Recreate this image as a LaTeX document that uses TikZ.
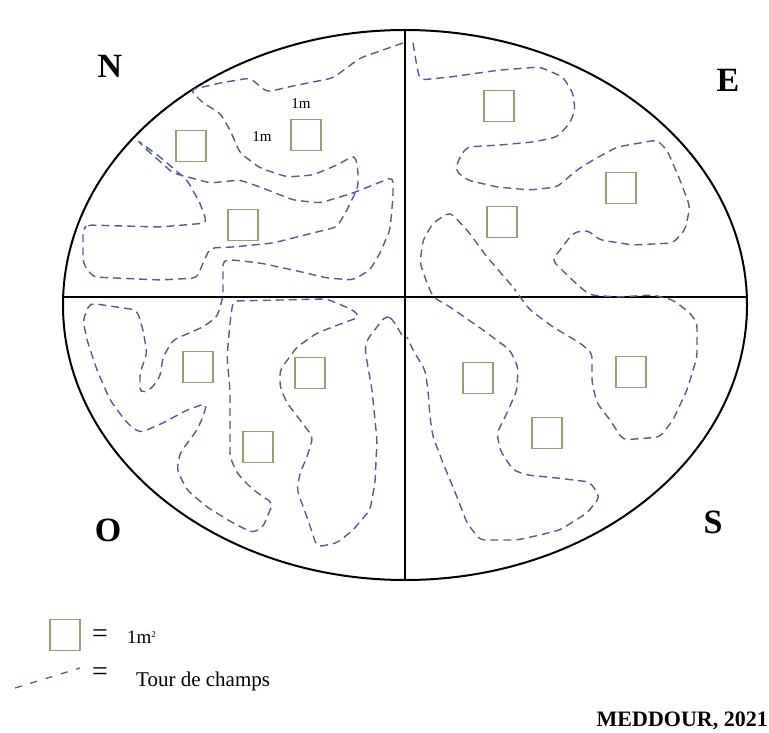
\documentclass[tikz,border=0pt]{standalone}
\usepackage{fontspec}
\setmainfont{Liberation Serif}
\definecolor{tourc}{RGB}{80,95,145}
\definecolor{quadc}{RGB}{140,165,110}
\tikzset{
  tourline/.style={draw=tourc, line width=1.4pt, dash pattern=on 8pt off 5pt, rounded corners=5pt},
  quadrat/.style={draw=quadc, line width=1.7pt, minimum width=30pt, minimum height=31pt, inner sep=0pt},
  dirlabel/.style={font=\fontsize{34}{34}\selectfont\bfseries},
  smalltxt/.style={font=\fontsize{15}{15}\selectfont, inner sep=0pt},
  legtxt/.style={font=\fontsize{19}{19}\selectfont, inner sep=0pt, anchor=west},
  eqtxt/.style={font=\fontsize{28}{28}\selectfont, inner sep=0pt},
}
\begin{document}
\begin{tikzpicture}[x=1pt,y=-1pt]
\useasboundingbox[fill=white] (0,0) rectangle (769,733);
% ellipse and axes
\draw[line width=2pt] (405,305) ellipse [x radius=342, y radius=275];
\draw[line width=1.2pt] (405,30) -- (405,580);
\draw[line width=1.2pt] (63,297) -- (747,297);
% direction labels
\node[dirlabel] (nN) at (110,66) {N};
\node[dirlabel] (nE) at (728,80) {E};
\node[dirlabel] (nO) at (108,530) {O};
\node[dirlabel] (nS) at (713,522) {S};
% tour de champs, west half
\draw[tourline] (403,43) -- (360,58) -- (333,78) -- (293,86) -- (267,92) -- (250,78) -- (220,83) -- (190,90)
  -- (203,103) -- (220,113) -- (230,130) -- (240,153) -- (260,168) -- (287,177) -- (313,175) -- (337,165) -- (355,155)
  -- (358,170) -- (358,187) -- (347,210) -- (337,227) -- (313,233) -- (273,243) -- (233,247) -- (210,248)
  -- (203,263) -- (197,278) -- (160,280) -- (93,277) -- (83,263) -- (83,230) -- (87,225) -- (160,227) -- (207,223)
  -- (200,203) -- (187,180) -- (160,157) -- (137,140) -- (147,150) -- (173,173) -- (210,183) -- (240,180)
  -- (260,187) -- (293,200) -- (320,203) -- (353,193) -- (393,177) -- (393,197) -- (390,230) -- (380,253)
  -- (370,270) -- (353,280) -- (327,278) -- (293,270) -- (260,263) -- (233,260) -- (223,260) -- (223,297)
  -- (217,317) -- (203,327) -- (173,340) -- (163,357) -- (160,377) -- (150,390) -- (140,393) -- (140,373)
  -- (147,353) -- (143,330) -- (137,310) -- (103,305) -- (90,303) -- (83,320) -- (87,340) -- (97,370)
  -- (110,400) -- (127,423) -- (140,433) -- (163,423) -- (187,410) -- (207,403) -- (203,417) -- (197,430)
  -- (180,453) -- (177,470) -- (187,490) -- (207,507) -- (233,523) -- (253,533) -- (263,527) -- (273,503)
  -- (263,497) -- (250,487) -- (237,473) -- (230,457) -- (230,423) -- (230,390) -- (227,357) -- (230,323)
  -- (233,301) -- (327,299) -- (353,310) -- (360,317) -- (343,323) -- (317,333) -- (297,347) -- (280,370)
  -- (280,387) -- (287,403) -- (313,437) -- (307,457) -- (300,473) -- (297,490) -- (307,517) -- (317,547)
  -- (337,543) -- (353,530) -- (370,510) -- (375,483) -- (377,440) -- (372,390) -- (365,350) -- (367,340)
  -- (380,323) -- (387,315) -- (393,320) -- (403,337);
% tour de champs, east half
\draw[tourline] (413,43) -- (417,67) -- (420,80) -- (450,77) -- (500,70) -- (540,67) -- (563,77) -- (573,93)
  -- (575,110) -- (570,123) -- (557,137) -- (533,142) -- (500,145) -- (467,147) -- (460,157) -- (455,170)
  -- (467,180) -- (497,187) -- (530,190) -- (557,187) -- (577,170) -- (593,160) -- (617,147) -- (657,140)
  -- (667,150) -- (680,180) -- (690,207) -- (685,230) -- (673,243) -- (633,245) -- (600,240) -- (587,230)
  -- (573,233) -- (560,250) -- (552,260) -- (567,275) -- (580,287) -- (590,295) -- (617,297) -- (653,295)
  -- (673,300) -- (690,313) -- (697,323) -- (697,357) -- (687,390) -- (673,420) -- (660,437) -- (623,440)
  -- (610,420) -- (597,403) -- (592,383) -- (592,353) -- (580,343) -- (553,327) -- (530,310) -- (517,293)
  -- (513,287) -- (487,257) -- (467,230) -- (450,212) -- (433,223) -- (423,240) -- (420,263) -- (427,283)
  -- (433,297) -- (450,307) -- (483,330) -- (510,350) -- (518,367) -- (517,390) -- (507,413) -- (497,433)
  -- (500,450) -- (513,470) -- (527,475) -- (557,478) -- (590,482) -- (600,497) -- (587,513) -- (560,530)
  -- (540,535) -- (517,540) -- (480,540) -- (467,523) -- (457,497) -- (443,463) -- (433,437) -- (430,417)
  -- (428,390) -- (425,370) -- (413,350) -- (407,337);
% quadrats
\node[quadrat] (q1) at (191,146) {};
\node[quadrat] (q2) at (306,135) {};
\node[quadrat] (q3) at (243,225) {};
\node[quadrat] (q4) at (499,106) {};
\node[quadrat] (q5) at (621,188) {};
\node[quadrat] (q6) at (502,222) {};
\node[quadrat] (q7) at (198,367) {};
\node[quadrat] (q8) at (310,373) {};
\node[quadrat] (q9) at (258,447) {};
\node[quadrat] (q10) at (478,378) {};
\node[quadrat] (q11) at (547,433) {};
\node[quadrat] (q12) at (631,372) {};
% dimension labels
\node[smalltxt] (m1) at (301,104) {1m};
\node[smalltxt] (m2) at (262,137) {1m};
% legend
\node[quadrat] (lq) at (65,635) {};
\node[eqtxt] (le1) at (100,636) {=};
\node[legtxt] (lt1) at (127,637) {1m\textsuperscript{\fontsize{9}{9}\selectfont 2}};
\coordinate (ld1) at (15,688);
\coordinate (ld2) at (80,668);
\draw[draw=tourc, line width=1.3pt, dash pattern=on 7pt off 9pt] (ld1) -- (ld2);
\node[eqtxt] (le2) at (100,674) {=};
\node[legtxt, font=\fontsize{21}{21}\selectfont] (lt2) at (136,681) {Tour de champs};
% source
\node[font=\fontsize{22}{22}\selectfont\bfseries, anchor=east, inner sep=0pt] (src) at (768,721) {MEDDOUR, 2021};
\end{tikzpicture}
\end{document}
